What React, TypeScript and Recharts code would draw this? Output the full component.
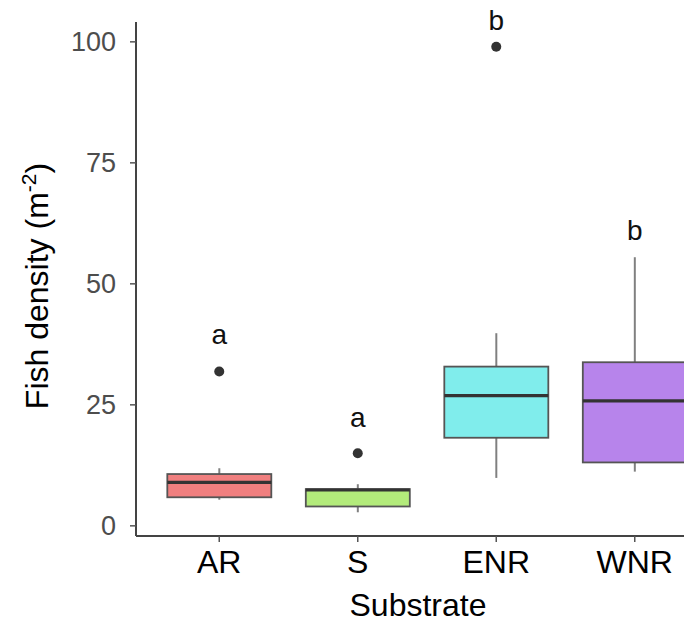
import React from 'react';
import { ComposedChart, Bar, Scatter, XAxis, YAxis, Label } from 'recharts';

const categories = ['AR', 'S', 'ENR', 'WNR'];
const whiskerLow = [5.4, 2.8, 9.9, 11.2];
const lowerQuartile = [5.9, 4.0, 18.2, 13.1];
const medians = [9.0, 7.4, 26.9, 25.8];
const upperQuartile = [10.7, 7.6, 32.9, 33.8];
const whiskerHigh = [11.9, 8.6, 39.8, 55.5];
const outliers: (number | null)[] = [31.9, 15.0, 99.0, null];
const groupLetters = ['a', 'a', 'b', 'b'];
const letterPositions = [37.5, 20.5, 102.5, 59.0];
const yTicks = [0, 25, 50, 75, 100];
const yDomain: [number, number] = [-2.1, 104.1];
const boxFills = ['#F07F7F', '#B3EB7B', '#80EDEC', '#B784EB'];

const data = categories.map((name, i) => ({
  name,
  low: whiskerLow[i],
  q1: lowerQuartile[i],
  median: medians[i],
  q3: upperQuartile[i],
  high: whiskerHigh[i],
  box: [lowerQuartile[i], upperQuartile[i]],
  outlier: outliers[i],
  letter: groupLetters[i],
  letterY: letterPositions[i],
  fill: boxFills[i],
}));

const FONT = '"Liberation Sans", Arial, Helvetica, sans-serif';

const BoxShape = (props: any) => {
  const { x, y, width, height, payload } = props;
  if (payload == null || x == null) return <g />;
  const top = Math.min(y, y + height);
  const h = Math.abs(height);
  const k = h / (payload.q3 - payload.q1);
  const py = (v: number) => top + (payload.q3 - v) * k;
  const cx = x + width / 2;
  const my = py(payload.median);
  return (
    <g>
      <line x1={cx} x2={cx} y1={py(payload.high)} y2={top} stroke="#808080" strokeWidth={2} />
      <line x1={cx} x2={cx} y1={top + h} y2={py(payload.low)} stroke="#808080" strokeWidth={2} />
      <rect x={x} y={top} width={width} height={h} fill={payload.fill} stroke="#555555" strokeWidth={1.8} />
      <line x1={x} x2={x + width} y1={my} y2={my} stroke="#333333" strokeWidth={3.2} />
    </g>
  );
};

const OutlierDot = (props: any) => {
  const { cx, cy, payload } = props;
  if (!payload || payload.outlier == null || cx == null || cy == null) return <g />;
  return <circle cx={cx} cy={cy} r={5} fill="#333333" />;
};

const LetterMark = (props: any) => {
  const { cx, cy, payload } = props;
  if (!payload || cx == null || cy == null) return <g />;
  return (
    <text x={cx} y={cy} textAnchor="middle" fontSize={28} fontFamily={FONT} fill="#111111">
      {payload.letter}
    </text>
  );
};

const YTitle = (props: any) => {
  const vb = props.viewBox || { x: 0, y: 14, width: 128, height: 514 };
  const x = vb.x + 40;
  const y = vb.y + vb.height / 2 + 7;
  return (
    <text
      x={x}
      y={y}
      transform={`rotate(-90, ${x}, ${y})`}
      textAnchor="middle"
      fontSize={32}
      fontFamily={FONT}
      fill="#000000"
    >
      Fish density (m
      <tspan dy={-12} fontSize={21}>-2</tspan>
      <tspan dy={12}>)</tspan>
    </text>
  );
};

const XTitle = (props: any) => {
  const vb = props.viewBox || { x: 128, y: 528, width: 582, height: 84 };
  const x = vb.x + vb.width / 2 - 9;
  const y = vb.y + 80;
  return (
    <text x={x} y={y} textAnchor="middle" fontSize={32} fontFamily={FONT} fill="#000000">
      Substrate
    </text>
  );
};

export default function App() {
  return (
    <div style={{ width: 684, height: 612, overflow: 'hidden' }}>
      <ComposedChart
        width={720}
        height={612}
        data={data}
        margin={{ top: 14, right: 10, bottom: 0, left: 0 }}
        barCategoryGap="12.5%"
        style={{ fontFamily: FONT }}
      >
        <XAxis
          dataKey="name"
          type="category"
          padding={{ left: 14, right: 14 }}
          height={84}
          tickSize={6}
          tickMargin={8}
          tick={{ fontSize: 32, fill: '#000000', fontFamily: FONT }}
          tickLine={{ stroke: '#555555', strokeWidth: 1.5 }}
          axisLine={{ stroke: '#444444', strokeWidth: 2 }}
        >
          <Label content={<XTitle />} position="insideBottom" />
        </XAxis>
        <YAxis
          type="number"
          domain={yDomain}
          ticks={yTicks}
          width={128}
          tickSize={6}
          tickMargin={14}
          tick={{ fontSize: 27, fill: '#4D4D4D', fontFamily: FONT }}
          tickLine={{ stroke: '#555555', strokeWidth: 1.5 }}
          axisLine={{ stroke: '#444444', strokeWidth: 2 }}
        >
          <Label content={<YTitle />} position="insideLeft" />
        </YAxis>
        <Bar dataKey="box" shape={<BoxShape />} isAnimationActive={false} />
        <Scatter dataKey="outlier" shape={<OutlierDot />} isAnimationActive={false} />
        <Scatter dataKey="letterY" shape={<LetterMark />} isAnimationActive={false} />
      </ComposedChart>
    </div>
  );
}
